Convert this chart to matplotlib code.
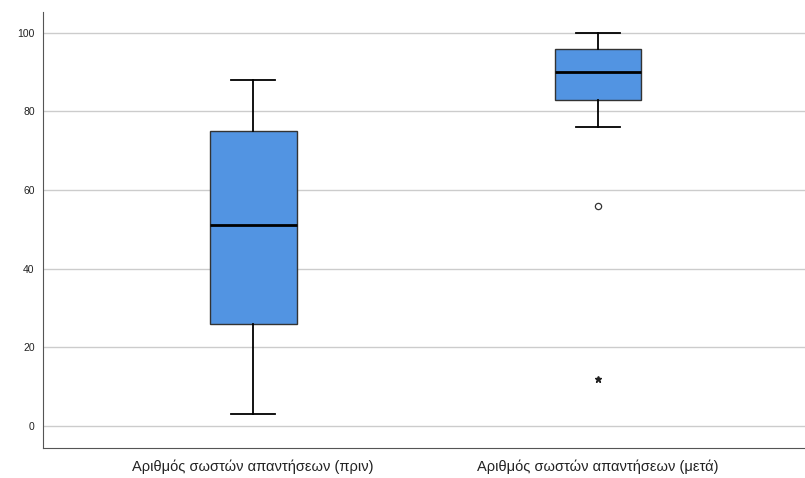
import matplotlib.pyplot as plt

plt.rcParams["font.family"] = ["Liberation Sans", "DejaVu Sans"]

labels = ["Αριθμός σωστών απαντήσεων (πριν)", "Αριθμός σωστών απαντήσεων (μετά)"]
whisker_low = [3, 76]
q1 = [26, 83]
median = [51, 90]
q3 = [75, 96]
whisker_high = [88, 100]
outliers = [[], [56]]
extremes = [[], [12]]
yticks = [0, 20, 40, 60, 80, 100]

fig = plt.figure(figsize=(8.05, 4.78), dpi=100)
ax = fig.add_axes([0.0534, 0.0628, 0.9466, 0.912])

stats = []
for i in range(len(labels)):
    stats.append({
        "whislo": whisker_low[i], "q1": q1[i], "med": median[i],
        "q3": q3[i], "whishi": whisker_high[i], "fliers": [],
    })

positions = [1, 2]
ax.bxp(
    stats, positions=positions, widths=0.252, patch_artist=True,
    showfliers=False,
    boxprops=dict(facecolor="#5294e2", edgecolor="#333333", linewidth=1),
    medianprops=dict(color="black", linewidth=2),
    whiskerprops=dict(color="black", linewidth=1.3),
    capprops=dict(color="black", linewidth=1.3),
    zorder=3,
)

for pos, vals in zip(positions, outliers):
    ax.plot([pos] * len(vals), vals, linestyle="none", marker="o", markersize=4.5,
            markerfacecolor="none", markeredgecolor="#333333", markeredgewidth=0.9, zorder=4)
for pos, vals in zip(positions, extremes):
    ax.plot([pos] * len(vals), vals, linestyle="none", marker="*", markersize=4.5,
            color="#222222", zorder=4)

ax.set_xlim(0.391, 2.6)
ax.set_ylim(-5.6, 105.3)
ax.set_yticks(yticks)
ax.set_xticks(positions)
ax.set_xticklabels(labels, fontsize=10.5, color="#222222")
ax.tick_params(axis="y", length=0, labelsize=7.5, pad=6, colors="#222222")
ax.tick_params(axis="x", length=0, pad=8)
ax.grid(axis="y", color="#cccccc", linewidth=1, zorder=0)
ax.set_axisbelow(True)
for side in ["top", "right"]:
    ax.spines[side].set_visible(False)
for side in ["left", "bottom"]:
    ax.spines[side].set_color("#555555")

fig.savefig("out.png", dpi=100)
